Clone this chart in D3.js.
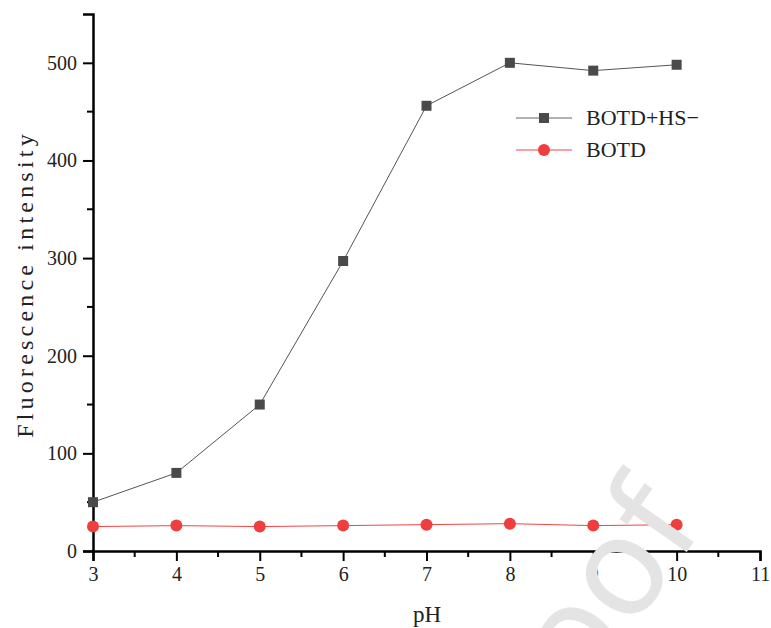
<!DOCTYPE html>
<html>
<head>
<meta charset="utf-8">
<script src="https://d3js.org/d3.v7.min.js"></script>
<style>
  body { margin: 0; background: #fff; }
  text { font-family: "Liberation Serif", "DejaVu Serif", serif; fill: #222; }
</style>
</head>
<body>
<script>
  var width = 771, height = 628;

  // data
  var phValues = [3, 4, 5, 6, 7, 8, 9, 10];
  var botdHS = [50, 80, 150, 297, 456, 500, 492, 498];
  var botd = [25, 26, 25, 26, 27, 28, 26, 27];
  var xTicks = [3, 4, 5, 6, 7, 8, 9, 10, 11];
  var yTicks = [0, 100, 200, 300, 400, 500];
  var seriesNames = ["BOTD+HS\u2212", "BOTD"];

  var svg = d3.select("body").append("svg")
    .attr("width", width)
    .attr("height", height);

  var x = d3.scaleLinear().domain([3, 11]).range([93, 760]);
  var y = d3.scaleLinear().domain([0, 550]).range([551, 14]);

  // x axis
  var xAxis = d3.axisBottom(x).tickValues(xTicks).tickSize(10).tickPadding(6).tickFormat(d3.format("d"));
  var gx = svg.append("g").attr("transform", "translate(0," + y(0) + ")").call(xAxis);
  gx.append("g").selectAll("line")
    .data(d3.range(3.5, 11, 1))
    .enter().append("line")
    .attr("x1", function(d) { return x(d); })
    .attr("x2", function(d) { return x(d); })
    .attr("y1", 0).attr("y2", 6)
    .attr("stroke", "#000").attr("stroke-width", 2);

  // y axis
  var yAxis = d3.axisLeft(y).tickValues(yTicks).tickSize(10).tickPadding(6);
  var gy = svg.append("g").attr("transform", "translate(" + x(3) + ",0)").call(yAxis);
  gy.append("g").selectAll("line")
    .data(d3.range(50, 550, 100))
    .enter().append("line")
    .attr("y1", function(d) { return y(d); })
    .attr("y2", function(d) { return y(d); })
    .attr("x1", 0).attr("x2", -6)
    .attr("stroke", "#000").attr("stroke-width", 2);

  [gx, gy].forEach(function(g) {
    g.select(".domain").attr("stroke", "#000").attr("stroke-width", 2.5);
    g.selectAll(".tick line").attr("stroke", "#000").attr("stroke-width", 2);
    g.selectAll(".tick text").attr("font-size", 20).attr("fill", "#222")
      .attr("font-family", "Liberation Serif, serif");
  });

  // axis titles
  svg.append("text")
    .attr("x", 427).attr("y", 622)
    .attr("text-anchor", "middle")
    .attr("font-size", 23)
    .text("pH");

  svg.append("text")
    .attr("transform", "translate(33,284) rotate(-90)")
    .attr("text-anchor", "middle")
    .attr("font-size", 24)
    .attr("letter-spacing", 4.2)
    .text("Fluorescence intensity");

  var line = d3.line()
    .x(function(d, i) { return x(phValues[i]); })
    .y(function(d) { return y(d); });

  // BOTD (red)
  svg.append("path")
    .datum(botd)
    .attr("d", line)
    .attr("fill", "none")
    .attr("stroke", "#ef4444")
    .attr("stroke-width", 1);

  svg.selectAll(".dot")
    .data(botd)
    .enter().append("circle")
    .attr("class", "dot")
    .attr("cx", function(d, i) { return x(phValues[i]); })
    .attr("cy", function(d) { return y(d); })
    .attr("r", 6)
    .attr("fill", "#ef3e3e");

  // BOTD+HS- (dark)
  svg.append("path")
    .datum(botdHS)
    .attr("d", line)
    .attr("fill", "none")
    .attr("stroke", "#555")
    .attr("stroke-width", 1);

  svg.selectAll(".sq")
    .data(botdHS)
    .enter().append("rect")
    .attr("class", "sq")
    .attr("x", function(d, i) { return x(phValues[i]) - 5; })
    .attr("y", function(d) { return y(d) - 5; })
    .attr("width", 10).attr("height", 10)
    .attr("fill", "#4a4a4a");

  // legend
  var legend = svg.append("g");
  var ly = [118, 150];
  legend.append("line").attr("x1", 516).attr("x2", 572).attr("y1", ly[0]).attr("y2", ly[0])
    .attr("stroke", "#666").attr("stroke-width", 1);
  legend.append("rect").attr("x", 539).attr("y", ly[0] - 5).attr("width", 10).attr("height", 10)
    .attr("fill", "#4a4a4a");
  legend.append("line").attr("x1", 516).attr("x2", 572).attr("y1", ly[1]).attr("y2", ly[1])
    .attr("stroke", "#ef4444").attr("stroke-width", 1);
  legend.append("circle").attr("cx", 544).attr("cy", ly[1]).attr("r", 6).attr("fill", "#ef3e3e");
  legend.selectAll("text")
    .data(seriesNames)
    .enter().append("text")
    .attr("x", 586)
    .attr("y", function(d, i) { return ly[i] + 7; })
    .attr("font-size", 22)
    .text(function(d) { return d; });

  // faded watermark, mostly off the bottom edge
  svg.append("text")
    .attr("transform", "translate(508,807) rotate(-55)")
    .style("font-family", "'DejaVu Sans', sans-serif")
    .attr("font-size", 135)
    .style("fill", "#e4e4e4")
    .text("Proof");
</script>
</body>
</html>
